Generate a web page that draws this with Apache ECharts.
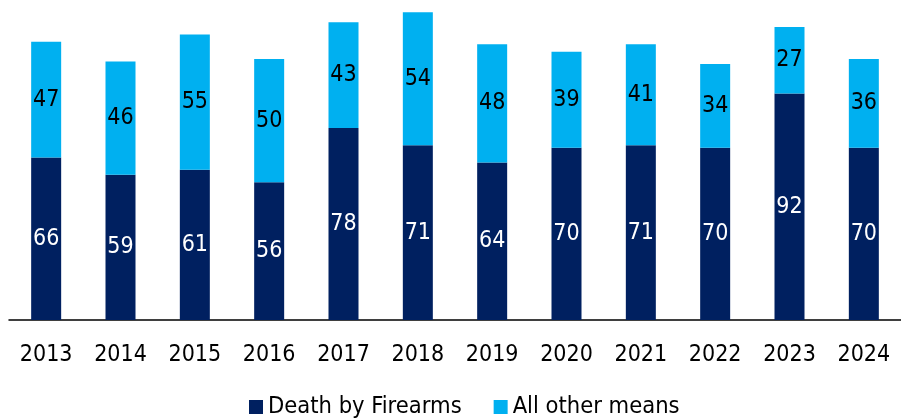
<!DOCTYPE html>
<html>
<head>
<meta charset="utf-8">
<script src="https://cdn.jsdelivr.net/npm/echarts@6/dist/echarts.min.js"></script>
<style>
  html, body { margin: 0; padding: 0; background: #fff; }
  #chart { width: 901px; height: 418px; }
</style>
</head>
<body>
<div id="chart"></div>
<script>
var years = ['2013', '2014', '2015', '2016', '2017', '2018', '2019', '2020', '2021', '2022', '2023', '2024'];
var firearms = [66, 59, 61, 56, 78, 71, 64, 70, 71, 70, 92, 70];
var otherMeans = [47, 46, 55, 50, 43, 54, 48, 39, 41, 34, 27, 36];

var font = "'DejaVu Sans Condensed', 'DejaVu Sans', sans-serif";

var myChart = echarts.init(document.getElementById('chart'));
myChart.setOption({
    animation: false,
    textStyle: { fontFamily: font },
    grid: {
        left: 9,
        width: 900,
        top: 0,
        bottom: 98
    },
    legend: {
        top: 390,
        left: 244,
        itemWidth: 14,
        itemHeight: 14,
        itemGap: 32,
        icon: 'rect',
        textStyle: { fontFamily: font, fontSize: 23.5, color: '#000' },
        data: ['Death by Firearms', 'All other means']
    },
    xAxis: {
        type: 'category',
        data: years,
        axisLine: { lineStyle: { color: '#000', width: 1.5 } },
        axisTick: { show: false },
        axisLabel: { fontFamily: font, fontSize: 23, color: '#000', margin: 24 }
    },
    yAxis: {
        type: 'value',
        min: 0,
        max: 130,
        show: false,
        splitLine: { show: false }
    },
    series: [
        {
            name: 'Death by Firearms',
            type: 'bar',
            stack: 'total',
            barWidth: 30,
            data: firearms,
            itemStyle: { color: '#002060' },
            label: {
                show: true,
                position: 'inside',
                color: '#fff',
                fontFamily: font,
                fontSize: 23
            }
        },
        {
            name: 'All other means',
            type: 'bar',
            stack: 'total',
            barWidth: 30,
            data: otherMeans,
            itemStyle: { color: '#00B0F0' },
            label: {
                show: true,
                position: 'inside',
                color: '#000',
                fontFamily: font,
                fontSize: 23
            }
        }
    ]
});
</script>
</body>
</html>
